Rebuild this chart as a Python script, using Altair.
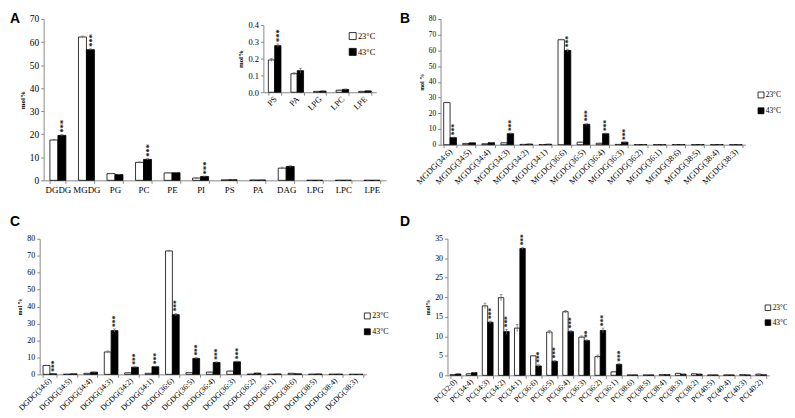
import altair as alt
import pandas as pd

temps = ["23°C", "43°C"]

# Panel A: lipid classes
a_cats = ["DGDG", "MGDG", "PG", "PC", "PE", "PI", "PS", "PA", "DAG", "LPG", "LPC", "LPE"]
a_23 = [17.5, 62.2, 2.9, 7.8, 3.2, 1.0, 0.19, 0.11, 5.3, 0.005, 0.012, 0.005]
a_43 = [19.5, 56.7, 2.5, 9.1, 3.3, 1.7, 0.28, 0.13, 6.0, 0.007, 0.017, 0.008]
a_e23 = [0.3, 0.4, 0.15, 0.2, 0.15, 0.05, 0.01, 0.01, 0.4, 0.001, 0.001, 0.001]
a_e43 = [0.4, 0.4, 0.1, 0.3, 0.15, 0.1, 0.01, 0.02, 0.5, 0.001, 0.002, 0.001]
a_sig = ["***", "***", "", "***", "", "***", "", "", "", "", "", ""]

# Inset of A: minor classes
i_cats = ["PS", "PA", "LPG", "LPC", "LPE"]
i_23 = [0.192, 0.110, 0.005, 0.012, 0.005]
i_43 = [0.277, 0.128, 0.007, 0.017, 0.008]
i_e23 = [0.008, 0.006, 0.001, 0.001, 0.001]
i_e43 = [0.010, 0.015, 0.001, 0.002, 0.001]
i_sig = ["***", "", "", "", ""]

# Panel B: MGDG species
b_cats = ["MGDG(34:6)", "MGDG(34:5)", "MGDG(34:4)", "MGDG(34:3)", "MGDG(34:2)", "MGDG(34:1)",
          "MGDG(36:6)", "MGDG(36:5)", "MGDG(36:4)", "MGDG(36:3)", "MGDG(36:2)", "MGDG(36:1)",
          "MGDG(38:6)", "MGDG(38:5)", "MGDG(38:4)", "MGDG(38:3)"]
b_23 = [26.8, 0.8, 0.6, 1.2, 0.2, 0.1, 66.8, 1.6, 0.9, 0.2, 0.05, 0.0, 0.1, 0.0, 0.0, 0.0]
b_43 = [4.5, 1.2, 1.3, 7.0, 0.4, 0.3, 60.0, 13.0, 7.0, 1.6, 0.1, 0.0, 0.1, 0.1, 0.1, 0.0]
b_e23 = [0.3, 0.05, 0.05, 0.1, 0.02, 0.02, 0.3, 0.1, 0.1, 0.02, 0.01, 0.0, 0.01, 0.0, 0.0, 0.0]
b_e43 = [0.3, 0.1, 0.1, 0.4, 0.05, 0.05, 0.8, 0.6, 0.4, 0.1, 0.02, 0.0, 0.02, 0.02, 0.02, 0.0]
b_sig = ["***", "", "", "***", "", "", "***", "***", "***", "***", "", "", "", "", "", ""]

# Panel C: DGDG species
c_cats = ["DGDG(34:6)", "DGDG(34:5)", "DGDG(34:4)", "DGDG(34:3)", "DGDG(34:2)", "DGDG(34:1)",
          "DGDG(36:6)", "DGDG(36:5)", "DGDG(36:4)", "DGDG(36:3)", "DGDG(36:2)", "DGDG(36:1)",
          "DGDG(38:6)", "DGDG(38:5)", "DGDG(38:4)", "DGDG(38:3)"]
c_23 = [5.2, 0.05, 0.6, 13.2, 0.9, 0.6, 72.8, 1.0, 1.3, 1.9, 0.1, 0.05, 0.6, 0.05, 0.05, 0.0]
c_43 = [0.3, 0.3, 1.3, 25.8, 4.2, 4.5, 35.2, 9.4, 7.0, 7.4, 0.7, 0.2, 0.3, 0.2, 0.1, 0.0]
c_e23 = [0.2, 0.01, 0.05, 0.6, 0.1, 0.05, 0.4, 0.1, 0.1, 0.1, 0.02, 0.01, 0.05, 0.01, 0.01, 0.0]
c_e43 = [0.05, 0.05, 0.1, 1.0, 0.3, 0.3, 0.8, 0.5, 0.4, 0.4, 0.05, 0.02, 0.03, 0.02, 0.02, 0.0]
c_sig = ["***", "", "", "***", "***", "***", "***", "***", "***", "***", "", "", "", "", "", ""]

# Panel D: PC species
d_cats = ["PC(32:0)", "PC(34:4)", "PC(34:3)", "PC(34:2)", "PC(34:1)", "PC(36:6)", "PC(36:5)",
          "PC(36:4)", "PC(36:3)", "PC(36:2)", "PC(36:1)", "PC(38:6)", "PC(38:5)", "PC(38:4)",
          "PC(38:3)", "PC(38:2)", "PC(40:5)", "PC(40:4)", "PC(40:3)", "PC(40:2)"]
d_23 = [0.2, 0.4, 17.8, 19.9, 12.1, 5.0, 11.1, 16.3, 9.8, 4.8, 0.9, 0.1, 0.1, 0.2, 0.5, 0.4, 0.1, 0.1, 0.2, 0.3]
d_43 = [0.35, 0.7, 13.6, 11.2, 32.5, 2.4, 3.6, 11.2, 8.9, 11.5, 2.8, 0.1, 0.1, 0.2, 0.3, 0.3, 0.1, 0.1, 0.1, 0.15]
d_e23 = [0.02, 0.03, 0.7, 0.8, 0.9, 0.1, 0.4, 0.3, 0.3, 0.4, 0.1, 0.01, 0.01, 0.02, 0.05, 0.05, 0.01, 0.01, 0.02, 0.03]
d_e43 = [0.03, 0.05, 0.3, 0.6, 0.3, 0.3, 0.2, 0.3, 0.2, 0.6, 0.2, 0.01, 0.01, 0.02, 0.03, 0.03, 0.01, 0.01, 0.01, 0.02]
d_sig = ["", "", "***", "***", "***", "***", "***", "***", "**", "***", "***",
         "", "", "", "", "", "", "", "", ""]

letters = ["A", "B", "C", "D"]

SERIF = "Liberation Serif"
H = 410
W = 787


def build(cats, v23, v43, e23, e43, sig):
    rows, srows = [], []
    for c, a, b, ea, eb, s in zip(cats, v23, v43, e23, e43, sig):
        rows.append(dict(cat=c, temp=temps[0], v=a, lo=max(a - ea, 0), hi=a + ea))
        rows.append(dict(cat=c, temp=temps[1], v=b, lo=max(b - eb, 0), hi=b + eb))
        if s:
            srows.append(dict(cat=c, temp=temps[1], hi=b + eb, sig=s))
    return pd.DataFrame(rows), pd.DataFrame(srows)


def panel(cats, v23, v43, e23, e43, sig, xr, yr, ydom, yvals, yfmt, fs, xfs, angle, pi,
          ytitle, tfs, legend=None, sfs=8):
    df, sdf = build(cats, v23, v43, e23, e43, sig)
    xaxis = alt.Axis(orient="bottom", offset=yr[0] - H, labelAngle=angle,
                     labelFont=SERIF, labelFontSize=xfs, labelColor="black",
                     labelPadding=2, tickBand="extent", tickSize=3,
                     domainColor="#888", tickColor="#888", title=None,
                     labelAlign="center" if angle == 0 else "right",
                     labelBaseline="top" if angle == 0 else "middle")
    yaxis = alt.Axis(orient="left", offset=-xr[0], values=yvals, format=yfmt,
                     labelFont=SERIF, labelFontSize=fs, labelColor="black",
                     labelPadding=2, tickSize=3, domainColor="#888", tickColor="#888",
                     grid=False, title=ytitle, titleFont=SERIF, titleFontSize=tfs,
                     titleFontWeight="bold", titleColor="black", titlePadding=4)
    xs = alt.Scale(range=xr, paddingInner=pi, paddingOuter=pi / 2)
    ys = alt.Scale(range=yr, domain=ydom, nice=False, zero=True)

    def X():
        return alt.X("cat:N", sort=cats, scale=xs, axis=xaxis)

    def Y(f):
        return alt.Y(f, type="quantitative", scale=ys, axis=yaxis)

    xo = alt.XOffset("temp:N", sort=temps, scale=alt.Scale(paddingInner=0, paddingOuter=0))
    if legend is None:
        leg = None
    else:
        leg = alt.Legend(orient="none", legendX=legend[0], legendY=legend[1], title=None,
                         symbolType="square", symbolStrokeColor="black",
                         symbolStrokeWidth=0.8, symbolSize=legend[2],
                         labelFont=SERIF, labelFontSize=legend[3], labelColor="black",
                         labelOffset=1, rowPadding=legend[4])
    fill = alt.Fill("temp:N", sort=temps,
                    scale=alt.Scale(domain=temps, range=["white", "black"]), legend=leg)
    base = alt.Chart(df)
    bars = base.mark_bar(stroke="black", strokeWidth=0.8).encode(x=X(), xOffset=xo, y=Y("v"), fill=fill)
    err = base.mark_rule(color="#666", strokeWidth=0.8).encode(x=X(), xOffset=xo, y=Y("lo"), y2="hi:Q")
    cap = base.mark_tick(color="#666", size=3, thickness=0.8).encode(x=X(), xOffset=xo, y=Y("hi"))
    layers = [bars, err, cap]
    if len(sdf):
        stars = alt.Chart(sdf).mark_text(angle=270, align="left", baseline="middle",
                                         font=SERIF, fontWeight="bold", fontSize=sfs,
                                         dx=2, dy=1.5, color="black").encode(
            x=X(), xOffset=xo, y=Y("hi"), text="sig:N")
        layers.append(stars)
    return alt.layer(*layers)


pA = panel(a_cats, a_23, a_43, a_e23, a_e43, a_sig, [36, 382], [172, 9], [0, 70],
           list(range(0, 71, 10)), "d", 9.5, 9, 0, 0.44, "mol%", 7, sfs=8.5)
pI = panel(i_cats, i_23, i_43, i_e23, i_e43, i_sig, [258, 372], [83, 15], [0, 0.4],
           [0, 0.1, 0.2, 0.3, 0.4], ".1f", 8.5, 8.5, -45, 0.44, "mol%", 7,
           legend=[344, 22, 50, 8.5, 5], sfs=8.5)
pB = panel(b_cats, b_23, b_43, b_e23, b_e43, b_sig, [437, 745], [136, 9], [0, 80],
           list(range(0, 81, 10)), "d", 7.5, 8.5, -45, 0.33, "mol %", 6,
           legend=[757, 82, 36, 7.5, 6], sfs=7.5)
pC = panel(c_cats, c_23, c_43, c_e23, c_e43, c_sig, [32, 362], [368, 231], [0, 80],
           list(range(0, 81, 10)), "d", 8, 8, -45, 0.33, "mol %", 6,
           legend=[359, 305, 36, 8, 6], sfs=7.5)
pD = panel(d_cats, d_23, d_43, d_e23, d_e43, d_sig, [444, 769], [369, 231], [0, 35],
           list(range(0, 36, 5)), "d", 8, 8, -45, 0.33, "mol%", 6,
           legend=[764, 297, 32, 7.5, 5], sfs=7.5)

ldf = pd.DataFrame({"t": letters, "px": [2, 396, 2, 396], "py": [2, 2, 207, 207]})
lets = alt.Chart(ldf).mark_text(font="Liberation Sans", fontWeight="bold", fontSize=14,
                                align="left", baseline="top", color="black").encode(
    x=alt.X("px:Q", scale=alt.Scale(domain=[0, W], range=[0, W]), axis=None),
    y=alt.Y("py:Q", scale=alt.Scale(domain=[0, H], range=[0, H]), axis=None),
    text="t:N")

chart = alt.layer(pA, pI, pB, pC, pD, lets).resolve_scale(
    x="independent", y="independent", xOffset="independent", fill="independent"
).properties(width=W, height=H, autosize="none", padding=0).configure_view(stroke=None)

chart.save("out.html", embed_options={"renderer": "svg", "actions": False})
